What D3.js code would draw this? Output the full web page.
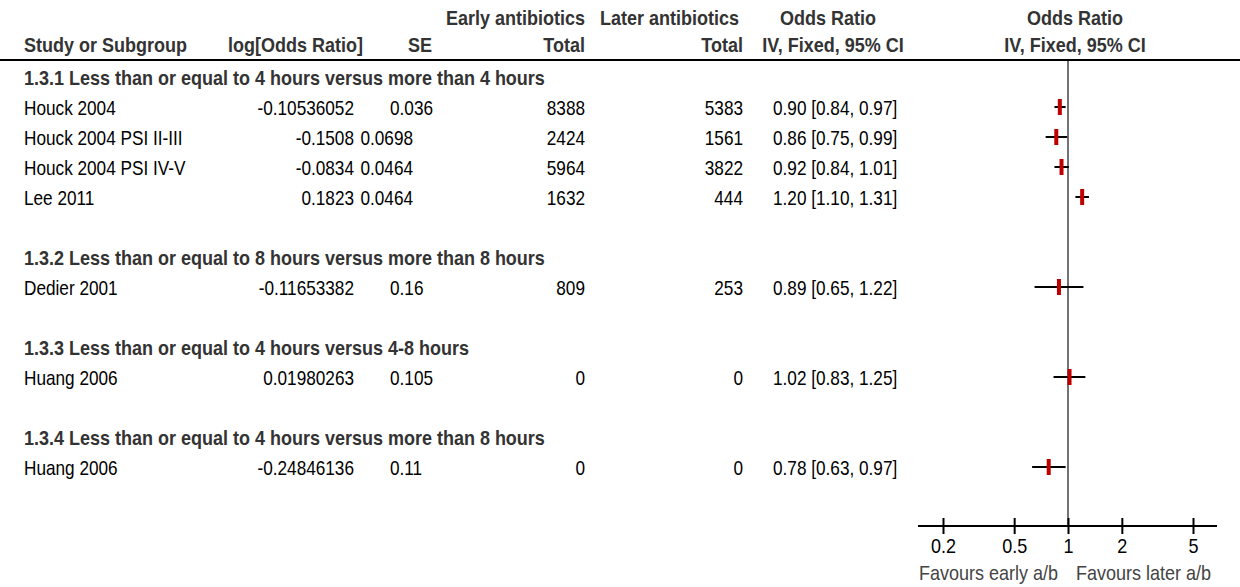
<!DOCTYPE html>
<html>
<head>
<meta charset="utf-8">
<script src="https://cdn.jsdelivr.net/npm/d3@7/dist/d3.min.js"></script>
<style>
  html, body { margin: 0; padding: 0; background: #fff; }
  svg { display: block; }
  text { font-family: "Liberation Sans", Arial, sans-serif; }
</style>
</head>
<body>
<svg id="chart" width="1240" height="587"></svg>
<script>
// Subgroups and their studies
const groups = [
  "1.3.1 Less than or equal to 4 hours versus more than 4 hours",
  "1.3.2 Less than or equal to 8 hours versus more than 8 hours",
  "1.3.3 Less than or equal to 4 hours versus 4-8 hours",
  "1.3.4 Less than or equal to 4 hours versus more than 8 hours"
];
const studies = ["Houck 2004", "Houck 2004 PSI II-III", "Houck 2004 PSI IV-V", "Lee 2011",
                 "Dedier 2001", "Huang 2006", "Huang 2006"];
const studyGroup = [0, 0, 0, 0, 1, 2, 3];
const logOR = ["-0.10536052", "-0.1508", "-0.0834", "0.1823", "-0.11653382", "0.01980263", "-0.24846136"];
const seValues = ["0.036", "0.0698", "0.0464", "0.0464", "0.16", "0.105", "0.11"];
const earlyTotal = [8388, 2424, 5964, 1632, 809, 0, 0];
const laterTotal = [5383, 1561, 3822, 444, 253, 0, 0];
const oddsRatio = [0.90, 0.86, 0.92, 1.20, 0.89, 1.02, 0.78];
const ciLow = [0.84, 0.75, 0.84, 1.10, 0.65, 0.83, 0.63];
const ciHigh = [0.97, 0.99, 1.01, 1.31, 1.22, 1.25, 0.97];
const axisTicks = [0.2, 0.5, 1, 2, 5];
const favourLeft = "Favours early a/b";
const favourRight = "Favours later a/b";

const svg = d3.select("#chart");
const FS = 20, SX_BOLD = 0.9, SX_REG = 0.86;

function label(x, y, str, anchor, opts = {}) {
  const sx = opts.sx || (opts.bold ? SX_BOLD : SX_REG);
  return svg.append("text")
    .attr("transform", `translate(${x},${y}) scale(${sx},1)`)
    .attr("text-anchor", anchor)
    .attr("font-size", opts.size || FS)
    .attr("font-weight", opts.bold ? "bold" : "normal")
    .attr("fill", opts.fill || "#000")
    .text(str);
}

// Build the row layout: heading, its studies, then a blank spacer row
const rows = [];
groups.forEach((g, gi) => {
  rows.push({ type: "head", text: g });
  studies.forEach((s, i) => { if (studyGroup[i] === gi) rows.push({ type: "study", i }); });
  if (gi < groups.length - 1) rows.push({ type: "blank" });
});

const y = d3.scaleLinear().domain([0, 1]).range([77, 107]);
const x = d3.scaleLog().domain([0.2, 5]).range([943, 1193]);

// Column anchors
const col = { study: 24, log: 354, seLeft: 390, seRight: 413, early: 585, later: 743, or: 773, orMid: 828, plotMid: 1075 };

// Header
const hdr = { bold: true, fill: "#333" };
label(col.early, 25, "Early antibiotics", "end", hdr);
label(col.later - 4, 25, "Later antibiotics", "end", hdr);
label(col.orMid, 25, "Odds Ratio", "middle", hdr);
label(col.plotMid, 25, "Odds Ratio", "middle", hdr);
label(col.study, 52, "Study or Subgroup", "start", hdr);
label(col.log + 9, 52, "log[Odds Ratio]", "end", hdr);
label(432, 52, "SE", "end", hdr);
label(col.early, 52, "Total", "end", hdr);
label(col.later, 52, "Total", "end", hdr);
label(col.orMid + 5, 52, "IV, Fixed, 95% CI", "middle", hdr);
label(col.plotMid, 52, "IV, Fixed, 95% CI", "middle", hdr);

svg.append("line").attr("x1", 0).attr("x2", 1240).attr("y1", 60).attr("y2", 60)
  .attr("stroke", "#000").attr("stroke-width", 2);

// Axis position and the line of no effect
const axisY = 526;
svg.append("line").attr("x1", x(1)).attr("x2", x(1)).attr("y1", 61).attr("y2", axisY)
  .attr("stroke", "#444").attr("stroke-width", 1.5);

const fmt2 = d3.format(".2f");
rows.forEach((r, ri) => {
  const cy = y(ri);
  const by = cy + 8;
  if (r.type === "head") {
    label(col.study, by, r.text, "start", { bold: true, fill: "#333" });
  } else if (r.type === "study") {
    const i = r.i;
    label(col.study, by, studies[i], "start");
    label(col.log, by, logOR[i], "end");
    if (seValues[i].length > 5) label(col.seRight, by, seValues[i], "end");
    else label(col.seLeft, by, seValues[i], "start");
    label(col.early, by, earlyTotal[i], "end");
    label(col.later, by, laterTotal[i], "end");
    label(col.or, by, `${fmt2(oddsRatio[i])} [${fmt2(ciLow[i])}, ${fmt2(ciHigh[i])}]`, "start");
    svg.append("line")
      .attr("x1", x(ciLow[i])).attr("x2", x(ciHigh[i])).attr("y1", cy).attr("y2", cy)
      .attr("stroke", "#000").attr("stroke-width", 2);
    svg.append("rect")
      .attr("x", x(oddsRatio[i]) - 2).attr("y", cy - 8)
      .attr("width", 4).attr("height", 16).attr("fill", "#c00000");
  }
});

// Bottom axis
const axisG = svg.append("g").attr("transform", `translate(0,${axisY})`)
  .call(d3.axisBottom(x).tickValues(axisTicks).tickFormat(d => String(d)).tickSize(0));
axisG.select(".domain").remove();
axisG.selectAll(".tick line").attr("y1", -8).attr("y2", 8).attr("stroke", "#000").attr("stroke-width", 2);
axisG.selectAll(".tick text")
  .attr("y", 0).attr("dy", 0)
  .attr("transform", `translate(0,27) scale(0.9,1)`)
  .attr("font-size", FS).attr("font-family", "Liberation Sans, Arial, sans-serif").attr("fill", "#000");
svg.append("line")
  .attr("x1", x.range()[0] - 25).attr("x2", x.range()[1] + 24)
  .attr("y1", axisY).attr("y2", axisY).attr("stroke", "#000").attr("stroke-width", 2);

label(x(1) - 10, 580, favourLeft, "end", { fill: "#444", sx: 0.9 });
label(x(1) + 8, 580, favourRight, "start", { fill: "#444", sx: 0.9 });
</script>
</body>
</html>
